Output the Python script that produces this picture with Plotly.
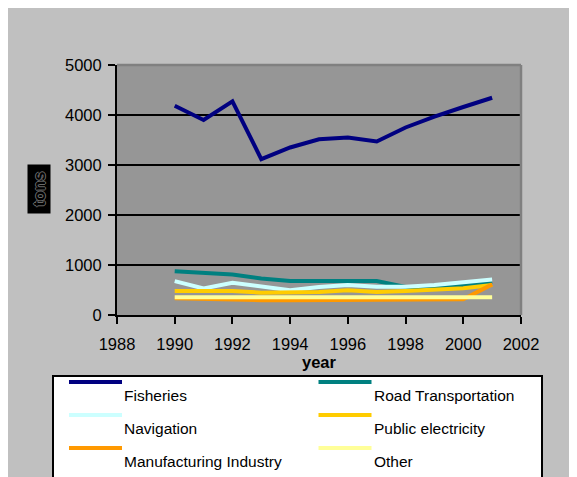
import plotly.graph_objects as go

# ---------------- data ----------------
years = [1990, 1991, 1992, 1993, 1994, 1995, 1996, 1997, 1998, 1999, 2000, 2001]
fisheries = [4186, 3900, 4272, 3117, 3350, 3515, 3550, 3470, 3750, 3967, 4160, 4345]
road_transportation = [875, 842, 809, 730, 678, 678, 678, 678, 560, 546, 592, 664]
navigation = [678, 533, 645, 560, 493, 560, 599, 566, 566, 599, 645, 711]
public_electricity = [480, 480, 480, 447, 447, 460, 493, 460, 480, 500, 533, 599]
manufacturing_industry = [335, 316, 296, 296, 296, 296, 296, 296, 316, 316, 316, 612]
other = [355, 355, 355, 355, 355, 355, 355, 355, 355, 355, 355, 355]

series_names = ["Fisheries", "Road Transportation", "Navigation",
                "Public electricity", "Manufacturing Industry", "Other"]
series_values = [fisheries, road_transportation, navigation,
                 public_electricity, manufacturing_industry, other]
series_colors = ["#000080", "#008080", "#CCFFFF", "#FFCC00", "#FF9900", "#FFFF99"]

x_tick_values = [1988, 1990, 1992, 1994, 1996, 1998, 2000, 2002]
y_tick_values = [0, 1000, 2000, 3000, 4000, 5000]

# ---------------- layout geometry ----------------
W, H = 577, 477
OFF = 8  # page body margin
L, R, T, B = 117 - OFF, 521 - OFF, 65 - OFF, 315 - OFF  # plot area in figure pixels
FONT = "Liberation Sans, Arial, sans-serif"


def px(xp):
    """screen x pixel -> paper fraction"""
    return (xp - OFF - L) / (R - L)


def py(yp):
    """screen y pixel -> paper fraction"""
    return (B - (yp - OFF)) / (B - T)


fig = go.Figure()
for name, vals, col in zip(series_names, series_values, series_colors):
    fig.add_trace(go.Scatter(x=years, y=vals, mode="lines", name=name,
                             line=dict(color=col, width=4), showlegend=False))

shapes = []
# gray plot border top/right
shapes.append(dict(type="line", xref="paper", yref="paper", x0=0, x1=1, y0=1, y1=1,
                   line=dict(color="#808080", width=2.5), layer="above"))
shapes.append(dict(type="line", xref="paper", yref="paper", x0=1, x1=1, y0=0, y1=1,
                   line=dict(color="#808080", width=2.5), layer="above"))
# legend box
shapes.append(dict(type="rect", xref="paper", yref="paper", x0=px(53), x1=px(542),
                   y0=py(376), y1=py(495), fillcolor="white",
                   line=dict(color="black", width=2), layer="above"))

annotations = []
col_sym_x = [69, 318.5]
for i, (name, col) in enumerate(zip(series_names, series_colors)):
    c, r = i % 2, i // 2
    sx0 = col_sym_x[c]
    sx1 = sx0 + 53
    sy = 382 + r * 33
    shapes.append(dict(type="line", xref="paper", yref="paper", x0=px(sx0), x1=px(sx1),
                       y0=py(sy), y1=py(sy), line=dict(color=col, width=4), layer="above"))
    annotations.append(dict(text=name, xref="paper", yref="paper", x=px(sx1 + 1), y=py(sy + 13),
                            xanchor="left", yanchor="middle", showarrow=False,
                            font=dict(family=FONT, size=15.5, color="black"), borderpad=0))

# y-axis title "tons" (outlined text on black box)
annotations.append(dict(text="<b>tons</b>", xref="paper", yref="paper", x=px(39), y=py(189),
                        xanchor="center", yanchor="middle", showarrow=False, textangle=-90,
                        bgcolor="black", width=46, height=20, borderpad=1,
                        font=dict(family=FONT, size=16.5, color="black",
                                  shadow="1px 0 0 #6a6a6a, -1px 0 0 #6a6a6a, 0 1px 0 #6a6a6a, 0 -1px 0 #6a6a6a")))

fig.update_layout(
    width=W, height=H,
    margin=dict(l=L, r=W - R, t=T, b=H - B, pad=0),
    paper_bgcolor="#C0C0C0",
    plot_bgcolor="#969696",
    font=dict(family=FONT, size=16, color="black"),
    showlegend=False,
    shapes=shapes,
    annotations=annotations,
    xaxis=dict(range=[1988, 2002], tickvals=x_tick_values, ticktext=[str(v) for v in x_tick_values],
               showgrid=False, zeroline=False, showline=True, linecolor="black", linewidth=2,
               ticks="outside", ticklen=7, tickwidth=2, tickcolor="black",
               tickfont=dict(size=16.5), ticklabelstandoff=6,
               title=dict(text="<b>year</b>", font=dict(size=16.5), standoff=2)),
    yaxis=dict(range=[0, 5000], tickvals=y_tick_values, ticktext=[str(v) for v in y_tick_values],
               showgrid=True, gridcolor="black", gridwidth=1.5, zeroline=False,
               showline=True, linecolor="black", linewidth=2,
               ticks="outside", ticklen=7, tickwidth=2, tickcolor="black",
               tickfont=dict(size=16.5), ticklabelstandoff=3),
)

fig.write_html("out.html")
